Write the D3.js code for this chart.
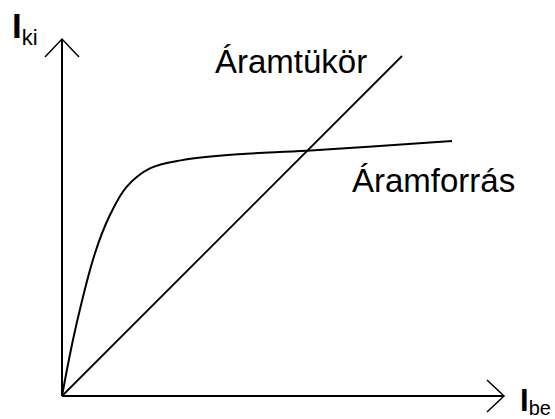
<!DOCTYPE html>
<meta charset="utf-8">
<html>
<head>
<script src="https://d3js.org/d3.v7.min.js"></script>
<style>
  body { margin: 0; background: #fff; }
  text { font-family: "Liberation Sans", Arial, sans-serif; fill: #000; }
</style>
</head>
<body>
<div id="chart"></div>
<script>

// Ibe / Iki values (arbitrary units)
var tukorIbe = [0, 10];
var tukorIki = [0, 10];

var forrasIbe = [0, 0.4, 0.97, 1.4, 1.9, 2.6, 3.5, 5.2, 7.2, 11.47];
var forrasIki = [0, 2.0, 4.2, 5.3, 6.15, 6.7, 6.93, 7.11, 7.21, 7.50];

var axisMax = [13, 10.5]; // end of the two arrows

var width = 555, height = 419;
var origin = {x: 62, y: 396};

var svg = d3.select("#chart")
  .append("svg")
    .attr("width", width)
    .attr("height", height);

var x = d3.scaleLinear()
  .domain([0, axisMax[0]])
  .range([origin.x, origin.x + 34 * axisMax[0]]);

var y = d3.scaleLinear()
  .domain([0, axisMax[1]])
  .range([origin.y, origin.y - 34 * axisMax[1]]);

// axes with open arrow heads
svg.append("line")
  .attr("x1", x(0)).attr("y1", y(0))
  .attr("x2", x(axisMax[0])).attr("y2", y(0))
  .attr("stroke", "#000").attr("stroke-width", 2);
svg.append("line")
  .attr("x1", x(0)).attr("y1", y(0))
  .attr("x2", x(0)).attr("y2", y(axisMax[1]))
  .attr("stroke", "#000").attr("stroke-width", 2);

var xt = x(axisMax[0]), yt = y(axisMax[1]);
svg.append("path")
  .attr("d", "M" + (xt - 17) + "," + (y(0) - 16) + "L" + xt + "," + y(0) + "L" + (xt - 17) + "," + (y(0) + 16))
  .attr("fill", "none").attr("stroke", "#000").attr("stroke-width", 1.5);
svg.append("path")
  .attr("d", "M" + (x(0) - 17) + "," + (yt + 18) + "L" + x(0) + "," + yt + "L" + (x(0) + 17) + "," + (yt + 18))
  .attr("fill", "none").attr("stroke", "#000").attr("stroke-width", 1.5);

var line = d3.line()
  .x(function(d) { return x(d[0]); })
  .y(function(d) { return y(d[1]); });

// current mirror: straight line
svg.append("path")
  .datum(d3.zip(tukorIbe, tukorIki))
  .attr("fill", "none")
  .attr("stroke", "#000")
  .attr("stroke-width", 1.8)
  .attr("d", line);

// current source: saturating curve
svg.append("path")
  .datum(d3.zip(forrasIbe, forrasIki))
  .attr("fill", "none")
  .attr("stroke", "#000")
  .attr("stroke-width", 2)
  .attr("d", line.curve(d3.curveCatmullRom.alpha(0.5)));

// labels
svg.append("text")
  .attr("x", 215).attr("y", 73)
  .style("font-size", "33px")
  .text("Áramtükör");
svg.append("text")
  .attr("x", 352).attr("y", 192)
  .style("font-size", "33px")
  .text("Áramforrás");

var ki = svg.append("text").attr("x", 12).attr("y", 38);
ki.append("tspan").style("font-size", "35px").style("font-weight", "bold").text("I");
ki.append("tspan").attr("dy", 7).style("font-size", "22px").text("ki");

var be = svg.append("text").attr("x", 520).attr("y", 411);
be.append("tspan").style("font-size", "31px").style("font-weight", "bold").text("I");
be.append("tspan").attr("dy", 4).style("font-size", "20px").text("be");

</script>
</body>
</html>
